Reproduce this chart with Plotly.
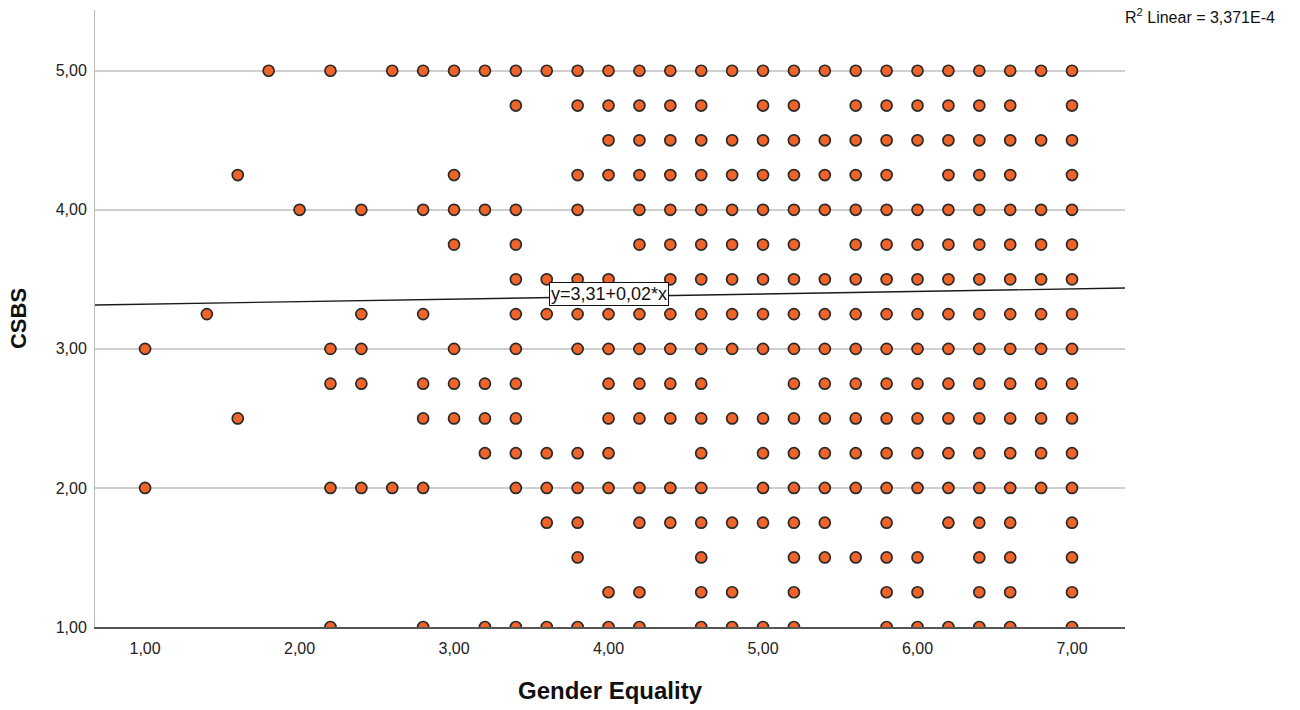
import plotly.graph_objects as go

# CSBS levels (y) and the Gender Equality values (x) observed at each level
csbs_levels = [5.00, 4.75, 4.50, 4.25, 4.00, 3.75, 3.50, 3.25, 3.00, 2.75, 2.50, 2.25, 2.00, 1.75, 1.50, 1.25, 1.00]

ge_at_500 = [1.8, 2.2, 2.6, 2.8, 3.0, 3.2, 3.4, 3.6, 3.8, 4.0, 4.2, 4.4, 4.6, 4.8, 5.0, 5.2, 5.4, 5.6, 5.8, 6.0, 6.2, 6.4, 6.6, 6.8, 7.0]
ge_at_475 = [3.4, 3.8, 4.0, 4.2, 4.4, 4.6, 5.0, 5.2, 5.6, 5.8, 6.0, 6.2, 6.4, 6.6, 7.0]
ge_at_450 = [4.0, 4.2, 4.4, 4.6, 4.8, 5.0, 5.2, 5.4, 5.6, 5.8, 6.0, 6.2, 6.4, 6.6, 6.8, 7.0]
ge_at_425 = [1.6, 3.0, 3.8, 4.0, 4.2, 4.4, 4.6, 4.8, 5.0, 5.2, 5.4, 5.6, 5.8, 6.2, 6.4, 6.6, 7.0]
ge_at_400 = [2.0, 2.4, 2.8, 3.0, 3.2, 3.4, 3.8, 4.2, 4.4, 4.6, 4.8, 5.0, 5.2, 5.4, 5.6, 5.8, 6.0, 6.2, 6.4, 6.6, 6.8, 7.0]
ge_at_375 = [3.0, 3.4, 4.2, 4.4, 4.6, 4.8, 5.0, 5.2, 5.6, 5.8, 6.0, 6.2, 6.4, 6.6, 6.8, 7.0]
ge_at_350 = [3.4, 3.6, 3.8, 4.0, 4.4, 4.6, 4.8, 5.0, 5.2, 5.4, 5.6, 5.8, 6.0, 6.2, 6.4, 6.6, 6.8, 7.0]
ge_at_325 = [1.4, 2.4, 2.8, 3.4, 3.6, 3.8, 4.0, 4.2, 4.4, 4.6, 4.8, 5.0, 5.2, 5.4, 5.6, 5.8, 6.0, 6.2, 6.4, 6.6, 6.8, 7.0]
ge_at_300 = [1.0, 2.2, 2.4, 3.0, 3.4, 3.8, 4.0, 4.2, 4.4, 4.6, 4.8, 5.0, 5.2, 5.4, 5.6, 5.8, 6.0, 6.2, 6.4, 6.6, 6.8, 7.0]
ge_at_275 = [2.2, 2.4, 2.8, 3.0, 3.2, 3.4, 4.0, 4.2, 4.4, 4.6, 5.2, 5.4, 5.6, 5.8, 6.0, 6.2, 6.4, 6.6, 6.8, 7.0]
ge_at_250 = [1.6, 2.8, 3.0, 3.2, 3.4, 4.0, 4.2, 4.4, 4.6, 4.8, 5.0, 5.2, 5.4, 5.6, 5.8, 6.0, 6.2, 6.4, 6.6, 6.8, 7.0]
ge_at_225 = [3.2, 3.4, 3.6, 3.8, 4.0, 4.6, 5.0, 5.2, 5.4, 5.6, 5.8, 6.0, 6.2, 6.4, 6.6, 6.8, 7.0]
ge_at_200 = [1.0, 2.2, 2.4, 2.6, 2.8, 3.4, 3.6, 3.8, 4.0, 4.2, 4.4, 4.6, 5.0, 5.2, 5.4, 5.6, 5.8, 6.0, 6.2, 6.4, 6.6, 6.8, 7.0]
ge_at_175 = [3.6, 3.8, 4.2, 4.4, 4.6, 4.8, 5.0, 5.2, 5.4, 5.8, 6.2, 6.4, 6.6, 7.0]
ge_at_150 = [3.8, 4.6, 5.2, 5.4, 5.6, 5.8, 6.0, 6.4, 6.6, 7.0]
ge_at_125 = [4.0, 4.2, 4.6, 4.8, 5.2, 5.8, 6.0, 6.4, 6.6, 7.0]
ge_at_100 = [2.2, 2.8, 3.2, 3.4, 3.6, 3.8, 4.0, 4.2, 4.6, 4.8, 5.0, 5.2, 5.8, 6.0, 6.2, 6.4, 6.6, 7.0]

ge_by_level = [ge_at_500, ge_at_475, ge_at_450, ge_at_425, ge_at_400, ge_at_375, ge_at_350, ge_at_325,
               ge_at_300, ge_at_275, ge_at_250, ge_at_225, ge_at_200, ge_at_175, ge_at_150, ge_at_125, ge_at_100]

# Fit line and labels
fit_intercept = 3.303
fit_slope = 0.0183
fit_label = "y=3,31+0,02*x"
r2_label = "R<sup>2</sup> Linear = 3,371E-4"
x_range = [0.676, 7.343]
y_range = [1.0, 5.437]
tick_vals = [1, 2, 3, 4, 5, 6, 7]

xs, ys = [], []
for lvl, gl in zip(csbs_levels, ge_by_level):
    for g in gl:
        xs.append(g)
        ys.append(lvl)

FONT = "Liberation Sans, Arial, sans-serif"

fig = go.Figure()
fig.add_trace(go.Scatter(
    x=[x_range[0], x_range[1]],
    y=[fit_intercept + fit_slope * x_range[0], fit_intercept + fit_slope * x_range[1]],
    mode="lines", line=dict(color="#1a1a1a", width=1.4), hoverinfo="skip", showlegend=False,
))
fig.add_trace(go.Scatter(
    x=xs, y=ys, mode="markers",
    marker=dict(size=11, color="#F0642A", line=dict(color="#2a2a2a", width=1.7)),
    showlegend=False,
))

fig.add_annotation(x=4.0, y=3.392, xref="x", yref="y", text=fit_label, showarrow=False,
                   font=dict(family=FONT, size=18, color="#111"), bgcolor="white",
                   bordercolor="#111", borderwidth=1, borderpad=1)
fig.add_annotation(x=1.0, y=1.0, xref="paper", yref="paper", xanchor="left", yanchor="top",
                   xshift=-2, yshift=6,
                   text=r2_label, showarrow=False, font=dict(family=FONT, size=16, color="#111"))

fig.update_layout(
    width=1300, height=710,
    margin=dict(l=95, r=175, t=10, b=79),
    paper_bgcolor="white", plot_bgcolor="white",
    separators=",.",
    font=dict(family=FONT, color="#222"),
    xaxis=dict(range=x_range, tickvals=tick_vals, tickformat=".2f", showgrid=False, zeroline=False,
               showline=True, linecolor="#555", linewidth=1.5, ticks="",
               tickfont=dict(size=16, color="#222"), ticklabelstandoff=6,
               title=dict(text="<b>Gender Equality</b>", font=dict(size=24, color="#111"), standoff=26)),
    yaxis=dict(range=y_range, tickvals=[1, 2, 3, 4, 5], tickformat=".2f", showgrid=True,
               gridcolor="#cfcfcf", gridwidth=1.5, zeroline=False,
               showline=True, linecolor="#bbbbbb", linewidth=1, ticks="",
               tickfont=dict(size=16, color="#222"), ticklabelstandoff=4,
               title=dict(text="<b>CSBS</b>", font=dict(size=22, color="#111"), standoff=22)),
)

fig.write_html("out.html", config={"displayModeBar": False},
               post_script="document.body.style.margin='0';")
